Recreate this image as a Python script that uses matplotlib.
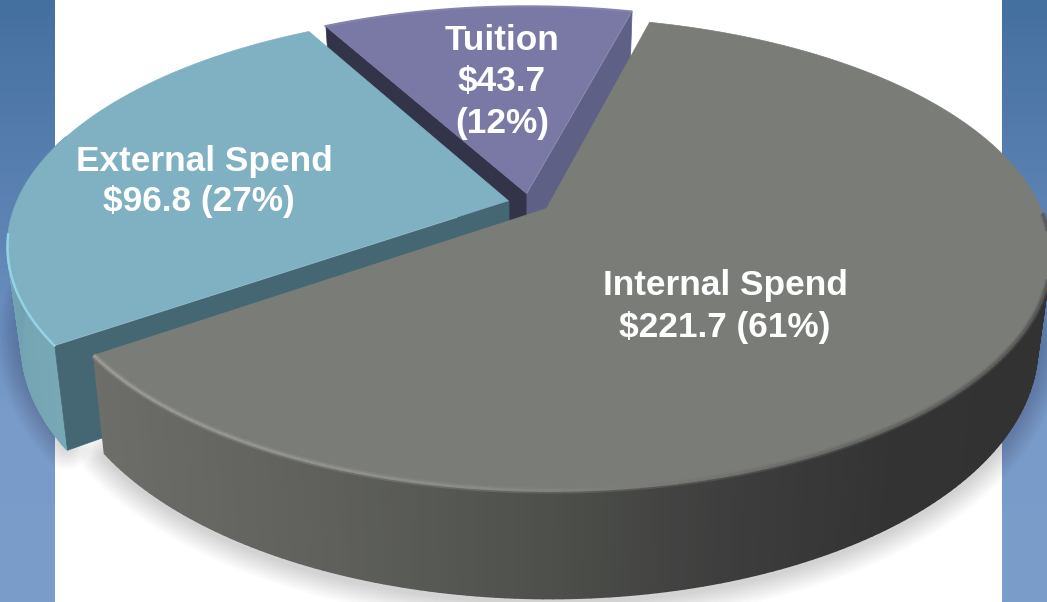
"""Exploded 3D pie of spend by category, with a projected top face and extruded walls."""
import matplotlib
matplotlib.use("Agg")
import matplotlib.pyplot as plt
import numpy as np
from matplotlib.collections import LineCollection, PolyCollection
from matplotlib.colors import LinearSegmentedColormap

CATEGORIES = ["Internal Spend", "External Spend", "Tuition"]
SPEND = [221.7, 96.8, 43.7]
PERCENTS = [61, 27, 12]

# pie projection, in pixels
CX, CY = 529.0, 203.0
AX_X, AX_Y = 492.0, 226.0
PERSP = 0.19
DEPTH = 87.0
FLOOR_SCALE = 0.975  # the underside converges slightly towards the centre
EXPLODE = 0.043
START = 75.3

TOP = {"Internal Spend": "#7a7d77", "External Spend": "#7fb1c3", "Tuition": "#7a79a6"}
RIM = {"Internal Spend": "#92938f", "External Spend": "#93d3e6", "Tuition": "#8584b0"}

plt.rcParams["font.family"] = ["Liberation Sans", "DejaVu Sans"]


def project(x, y, h=0.0):
    w = 1 + PERSP * np.asarray(y)
    sx = CX + (1 - h * (1 - FLOOR_SCALE)) * AX_X * np.asarray(x) / w
    return sx, CY - AX_Y * np.asarray(y) / w + h * DEPTH / w


def wedge_geom(a0, a1):
    """Apex and outer arc (plane coords) of a wedge running a0 -> a1 in degrees."""
    mid = np.radians((a0 + a1) / 2)
    ox, oy = EXPLODE * np.cos(mid), EXPLODE * np.sin(mid)
    t = np.radians(np.linspace(a0, a1, 240))
    return (ox, oy), ox + np.cos(t), oy + np.sin(t), np.degrees(t)


def quads(x, y, h=1.0):
    """Extruded strip under a plane polyline, one quad per step."""
    sx0, sy0 = project(x, y, 0)
    sx1, sy1 = project(x, y, h)
    out = []
    for i in range(len(sx0) - 1):
        out.append([(sx0[i], sy0[i]), (sx0[i + 1], sy0[i + 1]),
                    (sx1[i + 1], sy1[i + 1]), (sx1[i], sy1[i])])
    return out


def flat_wall(ax, p, q, color, z, h=1.0):
    x = np.array([p[0], q[0]])
    y = np.array([p[1], q[1]])
    ax.add_collection(PolyCollection(quads(x, y, h), facecolors=color, edgecolors=color,
                                     linewidths=0.5, zorder=z))


fig = plt.figure(figsize=(10.47, 6.02), dpi=100)
ax = fig.add_axes([0, 0, 1, 1])
ax.set_xlim(0, 1047)
ax.set_ylim(602, 0)
ax.axis("off")

# side strips either side of the white panel
strip = LinearSegmentedColormap.from_list(
    "strip", [(0, "#44709f"), (0.4, "#5f85b6"), (0.68, "#789bc9"), (1, "#7a9dca")])
grad = np.linspace(0, 1, 256).reshape(-1, 1)
ax.imshow(grad, cmap=strip, extent=(0, 55, 602, 0), aspect="auto", zorder=0)
ax.imshow(grad, cmap=strip, extent=(1002, 1047, 602, 0), aspect="auto", zorder=0)
ax.set_xlim(0, 1047)
ax.set_ylim(602, 0)

sweeps = 360 * np.array(SPEND) / sum(SPEND)
a_int = (START, START - sweeps[0])
a_ext = (START - sweeps[0], START - sweeps[0] - sweeps[1])
a_tui = (a_ext[1], a_ext[1] - sweeps[2])
geom = {
    "Internal Spend": wedge_geom(*a_int),
    "External Spend": wedge_geom(*a_ext),
    "Tuition": wedge_geom(*a_tui),
}

# soft ground shadow under the near edge
for name in ("Internal Spend", "External Spend"):
    _, x, y, t = geom[name]
    keep = np.sin(np.radians(t)) < 0
    sx, sy = project(x[keep], y[keep], 1.03)
    for lw in np.arange(34, 2, -3):
        ax.plot(sx, sy, color="black", lw=lw, alpha=0.014, zorder=1,
                solid_capstyle="round")

# tuition sits furthest back
apex, x, y, t = geom["Tuition"]
flat_wall(ax, apex, (x[0], y[0]), "#33334a", 2)
flat_wall(ax, apex, (x[-1], y[-1]), "#5f6086", 2)
sx, sy = project(np.r_[apex[0], x], np.r_[apex[1], y])
ax.fill(sx, sy, color=TOP["Tuition"], lw=0.5, zorder=3)
ax.plot(*project(x, y), color=RIM["Tuition"], lw=1.5, zorder=3)

# external wedge: cut wall and outer wall, then its top
apex, x, y, t = geom["External Spend"]
vis = np.sin(np.radians(t)) < 0.3
sq = quads(x[vis], y[vis], 1.07)
side_cmap = LinearSegmentedColormap.from_list("ext", ["#78a8b6", "#6c9cac"])
cols = [side_cmap(i / max(len(sq) - 1, 1)) for i in range(len(sq))]
ax.add_collection(PolyCollection(sq, facecolors=cols, edgecolors=cols, linewidths=1.2, zorder=4))
flat_wall(ax, apex, (x[0], y[0]), "#456673", 4, 1.07)
sx, sy = project(np.r_[apex[0], x], np.r_[apex[1], y])
ax.fill(sx, sy, color=TOP["External Spend"], lw=0.5, zorder=5)
lit = np.sin(np.radians(t)) < -0.14
rx, ry = project(x[lit], y[lit])
ax.plot(rx, ry, color=RIM["External Spend"], lw=1.8, zorder=5)

# internal wedge, shaded darker towards the right along the wall
apex, x, y, t = geom["Internal Spend"]
order = np.where(np.sin(np.radians(t)) < -0.02)[0]
sq = quads(x[order], y[order])
side_cmap = LinearSegmentedColormap.from_list(
    "int", [(0, "#6d6e6a"), (0.25, "#5f605c"), (0.45, "#50534d"), (0.68, "#3d3d3d"),
            (0.85, "#333333"), (1, "#323232")])
cols = [side_cmap(np.clip((q[0][0] - 90) / 957, 0, 1)) for q in sq]
ax.add_collection(PolyCollection(sq, facecolors=cols, edgecolors=cols, linewidths=1.2, zorder=6))
sx, sy = project(np.r_[apex[0], x], np.r_[apex[1], y])
ax.fill(sx, sy, color=TOP["Internal Spend"], lw=0.5, zorder=7)

# bevel along the rim
rx, ry = project(x[order], y[order])
pts = np.column_stack([rx, ry])
segs = np.stack([pts[:-1], pts[1:]], axis=1)
rim_cmap = LinearSegmentedColormap.from_list(
    "rim", [(0, "#9a9a96"), (0.4, "#8b8c88"), (0.7, "#70716d"), (1, "#5a5a5a")])
rim_cols = [rim_cmap(np.clip((s[0][0] - 90) / 957, 0, 1)) for s in segs]
ax.add_collection(LineCollection(segs, colors=rim_cols, linewidths=4.5, alpha=0.35, zorder=8))
ax.add_collection(LineCollection(segs, colors=rim_cols, linewidths=2.0, zorder=8))

labels = [
    ([f"{CATEGORIES[0]}", f"${SPEND[0]} ({PERCENTS[0]}%)"], [(725, 286), (725, 328)]),
    ([f"{CATEGORIES[1]}", f"${SPEND[1]} ({PERCENTS[1]}%)"], [(204, 161), (199, 202)]),
    ([f"{CATEGORIES[2]}", f"${SPEND[2]}", f"({PERCENTS[2]}%)"], [(502, 41), (502, 82), (502, 123)]),
]
for lines, where in labels:
    for s, (lx, ly) in zip(lines, where):
        ax.text(lx, ly, s, color="white", fontsize=25.4, fontweight="bold",
                ha="center", va="center", zorder=10)

fig.savefig("out.png", dpi=100)
plt.close(fig)
